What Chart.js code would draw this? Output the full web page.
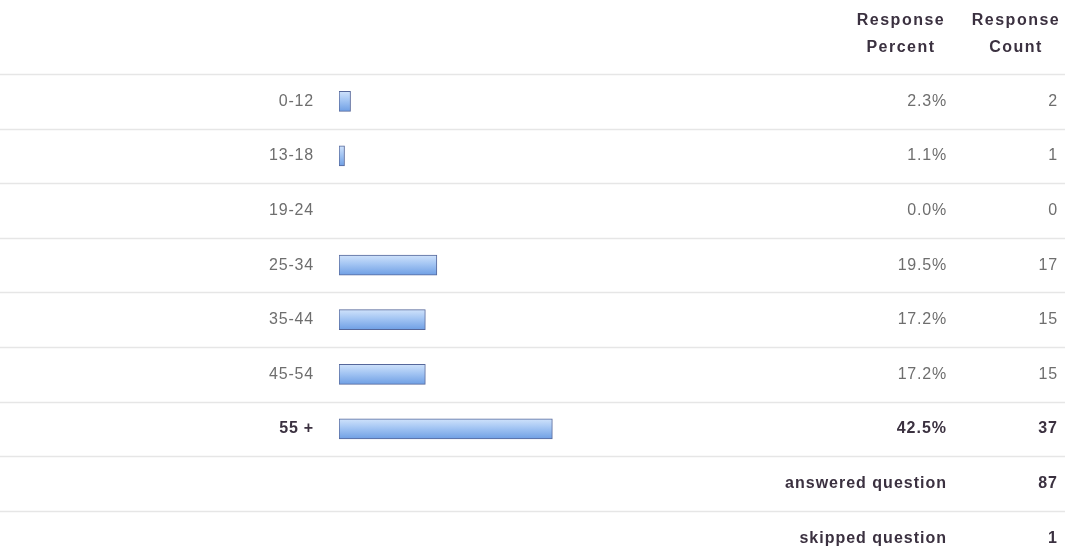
<!DOCTYPE html>
<html>
<head>
<meta charset="utf-8">
<script src="https://cdn.jsdelivr.net/npm/chart.js@4.4.0/dist/chart.umd.min.js"></script>
<style>
  html, body { margin: 0; padding: 0; background: #ffffff; overflow: hidden; }
  #wrap { position: relative; width: 1065px; height: 600px; }
</style>
</head>
<body>
<div id="wrap"><canvas id="c"></canvas></div>
<script>
// ---- data ----
const categories = ['0-12', '13-18', '19-24', '25-34', '35-44', '45-54', '55 +'];
const responsePercent = [2.3, 1.1, 0.0, 19.5, 17.2, 17.2, 42.5];
const responseCount = [2, 1, 0, 17, 15, 15, 37];
const summaryLabels = ['answered question', 'skipped question'];
const summaryValues = [87, 1];
const headerPercent = ['Response', 'Percent'];
const headerCount = ['Response', 'Count'];

const maxIndex = responsePercent.indexOf(Math.max(...responsePercent));
const rowLabels = categories.concat(summaryLabels.map(() => ''));
const barData = responsePercent.concat(summaryLabels.map(() => null));

const BOLD = '#3b3140';
const NORMAL = '#6e6e6e';
const FONT = '"Liberation Sans", Arial, sans-serif';

const tablePlugin = {
  id: 'tablePlugin',
  beforeDraw(chart) {
    const ctx = chart.ctx;
    const y = chart.scales.y;
    ctx.save();
    ctx.strokeStyle = '#e6e6e6';
    ctx.lineWidth = 1.5;
    const n = rowLabels.length;
    const step = (y.bottom - y.top) / n;
    for (let i = 0; i < n; i++) {
      const yy = Math.round(y.top + i * step) + 0.5;
      ctx.beginPath();
      ctx.moveTo(0, yy);
      ctx.lineTo(chart.width, yy);
      ctx.stroke();
    }
    ctx.restore();
    ctx.letterSpacing = '0.8px';
  },
  afterDraw(chart) {
    const ctx = chart.ctx;
    const y = chart.scales.y;
    const pctX = 947, cntX = 1058;
    ctx.save();
    ctx.textBaseline = 'middle';
    // headers
    ctx.fillStyle = BOLD;
    ctx.font = 'bold 16px ' + FONT;
    ctx.letterSpacing = '1.5px';
    ctx.textAlign = 'center';
    ctx.fillText(headerPercent[0], 901, 21);
    ctx.fillText(headerPercent[1], 901, 48);
    ctx.fillText(headerCount[0], 1016, 21);
    ctx.fillText(headerCount[1], 1016, 48);
    ctx.textAlign = 'right';
    // rows
    for (let i = 0; i < categories.length; i++) {
      const yc = y.getPixelForValue(i);
      const bold = i === maxIndex;
      ctx.font = (bold ? 'bold ' : '') + '16px ' + FONT;
      ctx.letterSpacing = bold ? '1px' : '0.8px';
      ctx.fillStyle = bold ? BOLD : NORMAL;
      ctx.fillText(responsePercent[i].toFixed(1) + '%', pctX, yc);
      ctx.fillText(String(responseCount[i]), cntX, yc);
    }
    // summary rows
    for (let j = 0; j < summaryLabels.length; j++) {
      const yc = y.getPixelForValue(categories.length + j);
      ctx.font = 'bold 16px ' + FONT;
      ctx.letterSpacing = '1px';
      ctx.fillStyle = BOLD;
      ctx.fillText(summaryLabels[j], pctX, yc);
      ctx.fillText(String(summaryValues[j]), cntX, yc);
    }
    ctx.restore();
  }
};

const barFill = (c) => {
  const chart = c.chart;
  const ys = chart.scales && chart.scales.y;
  if (!ys || c.dataIndex === undefined || !chart.chartArea) return '#97bdf0';
  const yc = ys.getPixelForValue(c.dataIndex);
  const g = chart.ctx.createLinearGradient(0, yc - 10, 0, yc + 10);
  g.addColorStop(0, '#cfe2fb');
  g.addColorStop(0.45, '#a3c5f3');
  g.addColorStop(1, '#6f9fe4');
  return g;
};

new Chart(document.getElementById('c'), {
  type: 'bar',
  data: {
    labels: rowLabels,
    datasets: [{
      data: barData,
      backgroundColor: barFill,
      borderColor: '#55679a',
      borderWidth: 1,
      borderSkipped: false,
      barThickness: 20
    }]
  },
  options: {
    indexAxis: 'y',
    responsive: true,
    maintainAspectRatio: false,
    animation: false,
    layout: { padding: { top: 74, right: 224, left: 0, bottom: 0 } },
    plugins: { legend: { display: false }, tooltip: { enabled: false } },
    scales: {
      x: { display: false, min: 0, max: 100 },
      y: {
        grid: { display: false, drawTicks: false },
        border: { display: false },
        afterFit(scale) { scale.width = 339; },
        ticks: {
          padding: 25,
          color: (c) => c.index === maxIndex ? BOLD : NORMAL,
          font: (c) => ({ family: FONT, size: 16, weight: c.index === maxIndex ? 'bold' : 'normal' })
        }
      }
    }
  },
  plugins: [tablePlugin]
});
</script>
</body>
</html>
